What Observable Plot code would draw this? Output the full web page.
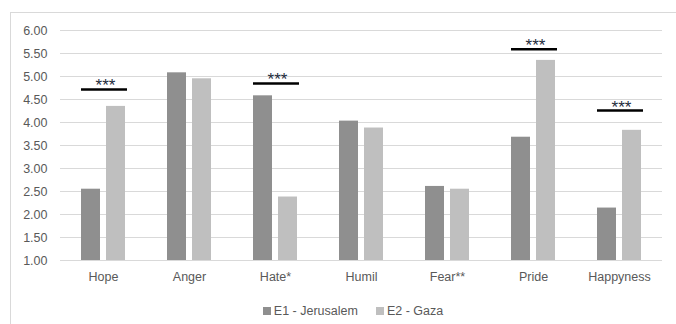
<!DOCTYPE html>
<html>
<head>
<meta charset="utf-8">
<script src="https://cdn.jsdelivr.net/npm/d3@7"></script>
<script src="https://cdn.jsdelivr.net/npm/@observablehq/plot@0.6"></script>
<style>
  html, body { margin: 0; padding: 0; background: #fff; }
  body { width: 676px; height: 324px; position: relative; overflow: hidden; font-family: "Liberation Sans", Arial, sans-serif; }
  #frame { position: absolute; left: 10px; top: 12px; width: 700px; height: 340px; border: 1px solid #d9d9d9; box-sizing: border-box; }
  #chart { position: absolute; left: 0; top: 0; }
  #legend { position: absolute; top: 304px; left: 0; width: 676px; display: flex; justify-content: center; gap: 18px; font-size: 12.5px; color: #595959; padding-left: 30px; box-sizing: border-box; }
  #legend span.sw { display: inline-block; width: 8px; height: 8px; margin-right: 3px; vertical-align: 0px; }
</style>
</head>
<body>
<div id="frame"></div>
<div id="chart"></div>
<div id="legend"></div>
<script>
const categories = ["Hope", "Anger", "Hate*", "Humil", "Fear**", "Pride", "Happyness"];
const seriesNames = ["E1 - Jerusalem", "E2 - Gaza"];
const e1Values = [2.55, 5.08, 4.58, 4.03, 2.61, 3.68, 2.14];
const e2Values = [4.35, 4.95, 2.38, 3.88, 2.55, 5.35, 3.83];
const sigCategories = ["Hope", "Hate*", "Pride", "Happyness"];
const sigLevels = [4.72, 4.85, 5.59, 4.26];
const sigLabels = ["***", "***", "***", "***"];
const yTicks = [1, 1.5, 2, 2.5, 3, 3.5, 4, 4.5, 5, 5.5, 6];
const colors = ["#8f8f8f", "#bfbfbf"];

const rows = [];
categories.forEach((c, i) => {
  rows.push({cat: c, series: seriesNames[0], value: e1Values[i]});
  rows.push({cat: c, series: seriesNames[1], value: e2Values[i]});
});
const sig = sigCategories.map((c, i) => ({cat: c, level: sigLevels[i], label: sigLabels[i]}));
const yMin = yTicks[0];

const chart = Plot.plot({
  width: 676,
  height: 290,
  marginTop: 30,
  marginBottom: 30,
  marginLeft: 59,
  marginRight: 14,
  style: {fontFamily: "'Liberation Sans', Arial, sans-serif", fontSize: "12.5px", color: "#595959", background: "transparent"},
  fx: {domain: categories, padding: 0, label: null},
  x: {domain: seriesNames, paddingInner: 0.24, paddingOuter: 0.84, axis: null},
  y: {domain: [1, 6], label: null},
  color: {domain: seriesNames, range: colors},
  marks: [
    Plot.gridY({ticks: yTicks, stroke: "#d9d9d9", strokeOpacity: 1, strokeWidth: 1}),
    Plot.axisY({ticks: yTicks, tickSize: 0, tickPadding: 13, tickFormat: d3.format(".2f"), label: null, fill: "#595959"}),
    Plot.axisFx({anchor: "bottom", tickSize: 0, tickPadding: 12, label: null, fill: "#595959"}),
    Plot.barY(rows, {fx: "cat", x: "series", y1: yMin, y2: "value", fill: "series"}),
    Plot.tickY(sig, {fx: "cat", y: "level", stroke: "#000", strokeWidth: 2.5, insetLeft: 21, insetRight: 19}),
    Plot.text(sig, {fx: "cat", y: "level", text: "label", dy: 2, lineAnchor: "bottom", fontSize: 17, fill: "#1f2d3d", frameAnchor: "middle", dx: 2, style: "letter-spacing: 1.5px"})
  ]
});
document.getElementById("chart").appendChild(chart);

const legend = document.getElementById("legend");
seriesNames.forEach((s, i) => {
  const item = document.createElement("div");
  item.innerHTML = `<span class="sw" style="background:${colors[i]}"></span>${s}`;
  legend.appendChild(item);
});
</script>
</body>
</html>
